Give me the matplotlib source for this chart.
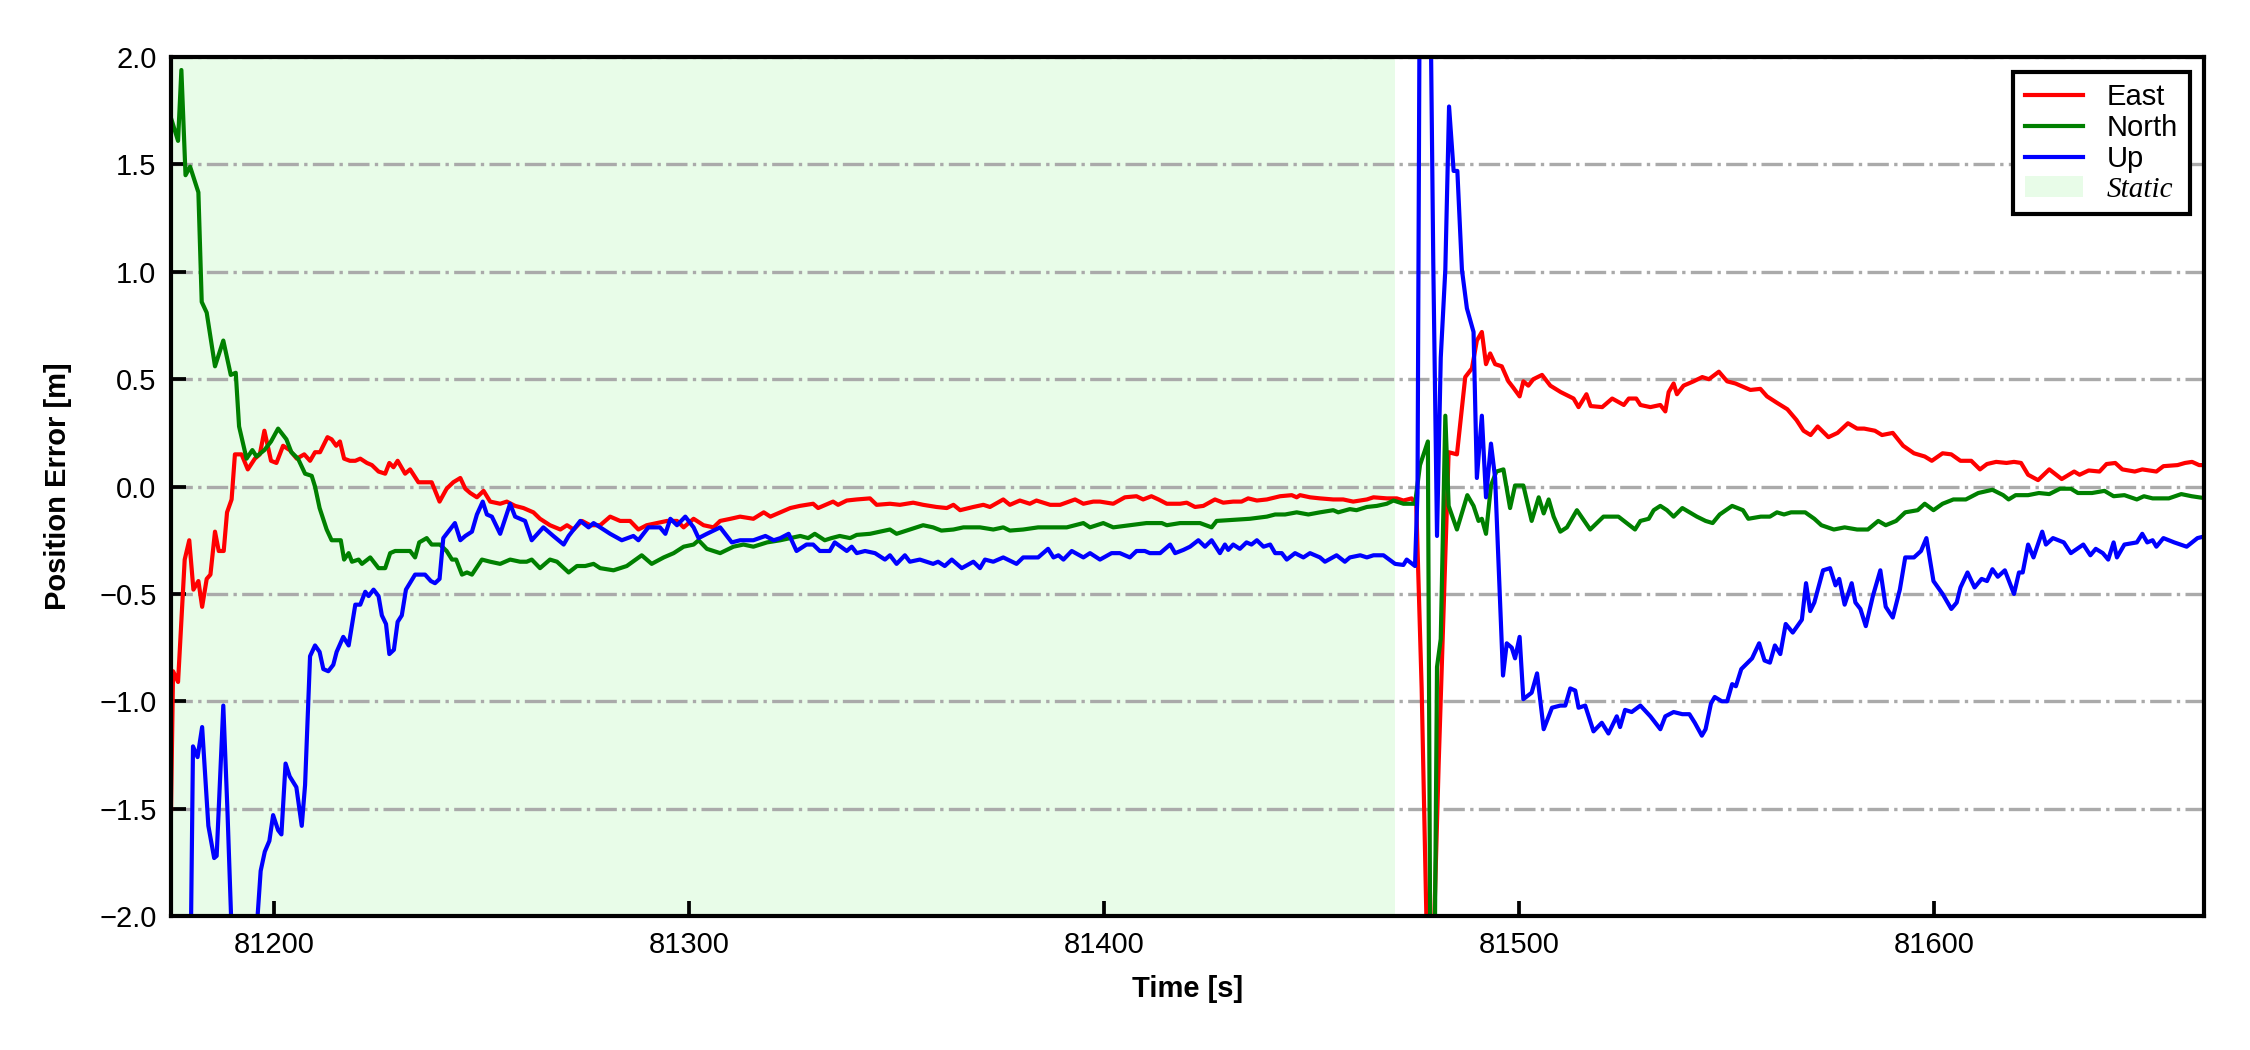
import matplotlib
matplotlib.use("Agg")
import matplotlib.pyplot as plt
from matplotlib.font_manager import FontProperties

plt.rcParams['font.family'] = ['Liberation Sans', 'DejaVu Sans']

# ---- data (time [s], error [m]) ----
east_t = [81175.2, 81175.7, 81176.9, 81178.5, 81179.6, 81180.6, 81181.8, 81182.7, 81183.8, 81184.7,
          81185.8, 81186.7, 81187.9, 81188.7, 81189.8, 81190.6, 81192.2, 81193.7, 81195.4, 81196.6,
          81197.7, 81199.3, 81200.6, 81202.2, 81203.8, 81205.5, 81207.3, 81208.7, 81209.9, 81211.1,
          81212.9, 81213.9, 81215.0, 81215.9, 81216.9, 81218.3, 81219.6, 81220.8, 81222.4, 81223.6,
          81225.2, 81226.8, 81227.8, 81228.8, 81229.8, 81231.6, 81232.8, 81234.8, 81236.4, 81238.0,
          81239.9, 81241.6, 81243.2, 81244.9, 81246.1, 81247.3, 81248.9, 81250.5, 81252.1, 81254.5,
          81256.1, 81258.1, 81260.1, 81262.5, 81264.1, 81266.5, 81269.0, 81270.6, 81272.2, 81274.2,
          81276.2, 81278.6, 81281.0, 81283.4, 81285.8, 81287.8, 81289.8, 81292.2, 81294.7, 81297.1,
          81298.7, 81301.1, 81303.5, 81305.9, 81307.5, 81310.0, 81312.3, 81315.5, 81318.0, 81319.6,
          81322.0, 81324.4, 81326.7, 81329.9, 81331.1, 81334.7, 81335.9, 81338.0, 81340.4, 81343.6,
          81345.2, 81348.4, 81350.8, 81354.0, 81356.4, 81359.6, 81362.1, 81363.7, 81365.3, 81368.5,
          81370.9, 81372.5, 81375.7, 81377.3, 81379.7, 81382.1, 81383.7, 81387.0, 81389.4, 81393.0,
          81395.0, 81397.4, 81399.0, 81402.2, 81405.0, 81407.8, 81409.4, 81411.4, 81413.1, 81415.1,
          81418.3, 81419.9, 81421.9, 81423.9, 81426.7, 81428.7, 81431.1, 81433.1, 81434.7, 81436.8,
          81439.2, 81442.4, 81445.2, 81446.4, 81447.2, 81449.6, 81452.0, 81455.2, 81457.6, 81460.0,
          81463.3, 81464.9, 81468.1, 81470.5, 81472.1, 81474.1, 81475.2, 81476.5, 81477.9, 81479.2,
          81480.6, 81483.0, 81485.0, 81487.0, 81488.6, 81489.8, 81491.0, 81492.0, 81493.0, 81494.2,
          81495.8, 81497.4, 81498.6, 81500.1, 81501.0, 81502.2, 81503.4, 81505.5, 81507.5, 81510.0,
          81513.1, 81514.3, 81516.2, 81517.2, 81520.0, 81522.4, 81525.2, 81526.4, 81528.2, 81529.2,
          81531.6, 81534.0, 81535.2, 81536.0, 81537.2, 81538.0, 81539.6, 81542.0, 81544.1, 81545.7,
          81548.1, 81550.1, 81552.1, 81553.3, 81555.7, 81558.1, 81559.7, 81562.1, 81564.6, 81566.8,
          81568.5, 81570.2, 81571.9, 81574.5, 81576.7, 81579.2, 81581.4, 81583.1, 81585.7, 81587.4,
          81590.0, 81592.5, 81595.1, 81597.7, 81599.4, 81602.0, 81604.1, 81606.3, 81608.9, 81611.0,
          81612.7, 81614.9, 81617.4, 81619.2, 81620.9, 81622.6, 81625.0, 81627.7, 81630.7, 81633.7,
          81635.0, 81637.2, 81639.8, 81641.5, 81643.6, 81645.3, 81648.3, 81650.1, 81653.5, 81655.2,
          81658.6, 81660.4, 81662.1, 81663.8, 81665.5]
east_v = [-1.51, -0.86, -0.91, -0.34, -0.25, -0.48, -0.44, -0.56, -0.43, -0.41,
          -0.21, -0.30, -0.30, -0.12, -0.06, 0.15, 0.15, 0.08, 0.13, 0.15,
          0.26, 0.12, 0.11, 0.19, 0.17, 0.13, 0.15, 0.12, 0.16, 0.16,
          0.23, 0.22, 0.19, 0.21, 0.13, 0.12, 0.12, 0.13, 0.11, 0.10,
          0.07, 0.06, 0.11, 0.09, 0.12, 0.06, 0.08, 0.02, 0.02, 0.02,
          -0.07, -0.01, 0.02, 0.04, -0.01, -0.03, -0.05, -0.02, -0.07, -0.08,
          -0.07, -0.09, -0.10, -0.12, -0.15, -0.18, -0.20, -0.18, -0.20, -0.16,
          -0.18, -0.18, -0.14, -0.16, -0.16, -0.20, -0.18, -0.17, -0.16, -0.16,
          -0.19, -0.15, -0.18, -0.19, -0.16, -0.15, -0.14, -0.15, -0.12, -0.14,
          -0.12, -0.10, -0.09, -0.08, -0.10, -0.07, -0.085, -0.065, -0.06, -0.055,
          -0.085, -0.08, -0.085, -0.075, -0.085, -0.095, -0.10, -0.085, -0.11, -0.095,
          -0.085, -0.095, -0.06, -0.085, -0.065, -0.08, -0.065, -0.085, -0.085, -0.06,
          -0.08, -0.07, -0.07, -0.08, -0.05, -0.045, -0.06, -0.045, -0.06, -0.08,
          -0.08, -0.075, -0.095, -0.09, -0.06, -0.075, -0.07, -0.07, -0.055, -0.065,
          -0.06, -0.045, -0.04, -0.05, -0.04, -0.05, -0.055, -0.06, -0.06, -0.07,
          -0.06, -0.05, -0.055, -0.055, -0.065, -0.055, -0.085, -0.94, -2.25, -2.25,
          -1.29, 0.16, 0.15, 0.51, 0.55, 0.68, 0.72, 0.57, 0.62, 0.57,
          0.56, 0.49, 0.46, 0.42, 0.49, 0.47, 0.50, 0.52, 0.47, 0.44,
          0.41, 0.37, 0.43, 0.375, 0.37, 0.41, 0.38, 0.41, 0.41, 0.38,
          0.37, 0.38, 0.35, 0.44, 0.48, 0.43, 0.47, 0.49, 0.51, 0.50,
          0.535, 0.49, 0.48, 0.47, 0.45, 0.455, 0.42, 0.39, 0.36, 0.31,
          0.26, 0.24, 0.28, 0.23, 0.25, 0.295, 0.27, 0.27, 0.26, 0.24,
          0.25, 0.19, 0.155, 0.14, 0.12, 0.155, 0.15, 0.12, 0.12, 0.08,
          0.105, 0.115, 0.11, 0.115, 0.11, 0.055, 0.03, 0.08, 0.035, 0.07,
          0.055, 0.075, 0.07, 0.105, 0.11, 0.08, 0.07, 0.08, 0.07, 0.095,
          0.10, 0.11, 0.115, 0.10, 0.10]

north_t = [81175.3, 81176.9, 81177.7, 81178.7, 81179.8, 81180.8, 81181.8, 81182.6, 81183.8, 81185.8,
           81187.8, 81189.6, 81190.8, 81191.6, 81193.4, 81194.8, 81195.8, 81197.7, 81199.3, 81201.0,
           81203.0, 81204.2, 81205.8, 81207.5, 81209.1, 81209.9, 81211.0, 81212.7, 81213.9, 81215.1,
           81216.1, 81216.9, 81218.0, 81218.8, 81220.4, 81221.2, 81223.2, 81225.2, 81226.8, 81228.0,
           81229.2, 81232.8, 81234.0, 81235.0, 81236.8, 81238.0, 81240.0, 81241.6, 81242.9, 81243.9,
           81245.3, 81246.5, 81247.7, 81250.1, 81252.1, 81254.5, 81256.9, 81259.3, 81260.9, 81262.1,
           81264.1, 81266.5, 81268.2, 81271.0, 81273.0, 81275.0, 81277.0, 81278.6, 81281.8, 81285.0,
           81288.6, 81291.0, 81293.9, 81296.3, 81298.7, 81301.1, 81302.3, 81304.3, 81307.5, 81310.7,
           81313.1, 81315.5, 81318.8, 81322.0, 81326.8, 81328.7, 81330.3, 81332.7, 81334.3, 81336.3,
           81338.8, 81340.4, 81343.6, 81346.0, 81348.4, 81350.0, 81353.2, 81356.4, 81358.8, 81360.8,
           81363.7, 81366.1, 81370.1, 81373.3, 81375.7, 81377.3, 81380.5, 81384.1, 81388.6, 81391.0,
           81395.0, 81396.6, 81399.8, 81402.2, 81406.2, 81410.2, 81413.9, 81415.1, 81418.3, 81423.1,
           81425.9, 81427.1, 81431.1, 81435.1, 81439.2, 81441.2, 81443.6, 81446.4, 81449.2, 81452.0,
           81455.2, 81456.4, 81459.2, 81460.8, 81463.3, 81465.7, 81468.1, 81469.7, 81472.1, 81474.9,
           81476.1, 81478.0, 81478.6, 81479.6, 81480.2, 81481.1, 81482.2, 81483.0, 81485.0, 81487.5,
           81489.0, 81490.2, 81491.0, 81492.0, 81493.2, 81494.5, 81496.2, 81497.8, 81499.0, 81501.0,
           81503.0, 81504.7, 81505.9, 81507.1, 81508.3, 81509.9, 81511.5, 81513.9, 81517.1, 81520.3,
           81521.9, 81523.9, 81527.9, 81529.2, 81531.2, 81532.4, 81534.0, 81535.6, 81537.2, 81539.3,
           81542.8, 81544.9, 81546.6, 81548.3, 81551.3, 81553.9, 81555.2, 81558.2, 81560.4, 81562.1,
           81563.8, 81565.5, 81568.9, 81571.1, 81572.8, 81575.8, 81578.4, 81581.4, 81584.0, 81586.5,
           81588.3, 81590.8, 81593.0, 81596.0, 81597.7, 81599.8, 81602.0, 81604.6, 81607.6, 81610.6,
           81614.0, 81616.6, 81617.9, 81619.6, 81622.6, 81625.2, 81627.7, 81630.3, 81632.9, 81634.6,
           81638.0, 81641.0, 81643.2, 81645.8, 81648.8, 81650.5, 81652.6, 81656.5, 81659.5, 81662.0,
           81665.5]
north_v = [1.71, 1.61, 1.94, 1.45, 1.49, 1.43, 1.37, 0.86, 0.81, 0.56,
           0.68, 0.52, 0.53, 0.28, 0.13, 0.17, 0.14, 0.17, 0.21, 0.27,
           0.22, 0.16, 0.13, 0.06, 0.05, 0.0, -0.10, -0.20, -0.25, -0.25,
           -0.25, -0.34, -0.31, -0.35, -0.34, -0.36, -0.33, -0.38, -0.38, -0.31,
           -0.30, -0.30, -0.33, -0.26, -0.24, -0.27, -0.27, -0.30, -0.34, -0.34,
           -0.41, -0.40, -0.41, -0.34, -0.35, -0.36, -0.34, -0.35, -0.35, -0.34,
           -0.38, -0.34, -0.35, -0.40, -0.37, -0.37, -0.36, -0.38, -0.39, -0.37,
           -0.32, -0.36, -0.33, -0.31, -0.28, -0.27, -0.25, -0.29, -0.31, -0.28,
           -0.27, -0.28, -0.26, -0.25, -0.23, -0.24, -0.22, -0.25, -0.24, -0.23,
           -0.24, -0.225, -0.22, -0.21, -0.20, -0.22, -0.20, -0.18, -0.19, -0.205,
           -0.20, -0.19, -0.19, -0.20, -0.19, -0.205, -0.20, -0.19, -0.19, -0.19,
           -0.17, -0.19, -0.17, -0.19, -0.18, -0.17, -0.17, -0.18, -0.17, -0.17,
           -0.19, -0.16, -0.155, -0.15, -0.14, -0.13, -0.13, -0.12, -0.13, -0.12,
           -0.11, -0.12, -0.105, -0.11, -0.095, -0.09, -0.08, -0.065, -0.08, -0.08,
           0.10, 0.21, -2.3, -2.3, -0.84, -0.71, 0.33, -0.09, -0.20, -0.04,
           -0.09, -0.16, -0.15, -0.22, 0.005, 0.07, 0.08, -0.10, 0.005, 0.005,
           -0.16, -0.05, -0.125, -0.06, -0.14, -0.21, -0.19, -0.11, -0.20, -0.14,
           -0.14, -0.14, -0.20, -0.16, -0.15, -0.11, -0.09, -0.11, -0.14, -0.10,
           -0.14, -0.16, -0.17, -0.13, -0.09, -0.11, -0.15, -0.14, -0.14, -0.12,
           -0.13, -0.12, -0.12, -0.15, -0.18, -0.20, -0.19, -0.20, -0.20, -0.16,
           -0.18, -0.16, -0.12, -0.11, -0.08, -0.11, -0.08, -0.06, -0.06, -0.03,
           -0.015, -0.04, -0.06, -0.04, -0.04, -0.03, -0.035, -0.01, -0.01, -0.03,
           -0.03, -0.02, -0.045, -0.04, -0.06, -0.045, -0.055, -0.055, -0.035, -0.045,
           -0.055]

up_t = [81175.2, 81179.7, 81180.5, 81181.6, 81182.7, 81184.2, 81185.6, 81186.2, 81187.8, 81188.8,
        81190.2, 81195.0, 81196.8, 81197.8, 81198.9, 81199.8, 81201.0, 81201.8, 81202.8, 81203.8,
        81205.4, 81206.7, 81207.5, 81208.7, 81209.9, 81211.0, 81211.9, 81213.1, 81214.3, 81215.1,
        81216.7, 81218.0, 81219.6, 81220.8, 81222.0, 81222.8, 81224.0, 81225.2, 81226.0, 81227.0,
        81227.8, 81228.9, 81229.8, 81230.8, 81231.8, 81234.0, 81236.4, 81237.8, 81238.8, 81239.9,
        81240.8, 81242.0, 81243.6, 81244.9, 81246.1, 81247.7, 81248.9, 81250.3, 81251.3, 81252.5,
        81254.5, 81256.9, 81258.1, 81260.5, 81262.1, 81264.9, 81267.3, 81269.8, 81271.0, 81273.8,
        81275.8, 81277.0, 81278.6, 81281.0, 81283.8, 81286.6, 81287.8, 81290.2, 81293.0, 81294.3,
        81295.5, 81297.1, 81299.1, 81301.1, 81302.3, 81304.3, 81307.5, 81310.3, 81312.3, 81315.5,
        81318.4, 81320.4, 81322.0, 81324.0, 81325.9, 81328.3, 81329.9, 81331.5, 81333.9, 81335.1,
        81338.0, 81339.2, 81340.4, 81342.4, 81344.8, 81347.2, 81348.4, 81350.0, 81352.0, 81353.2,
        81355.6, 81358.8, 81360.0, 81361.6, 81363.3, 81365.7, 81368.5, 81370.1, 81371.3, 81373.3,
        81375.7, 81378.9, 81380.5, 81384.1, 81386.5, 81387.8, 81389.0, 81390.2, 81392.2, 81395.0,
        81396.6, 81399.0, 81401.8, 81403.8, 81406.2, 81407.8, 81409.8, 81411.0, 81413.5, 81415.9,
        81417.1, 81419.1, 81420.7, 81422.7, 81424.3, 81425.9, 81427.9, 81429.1, 81429.9, 81431.1,
        81432.7, 81434.3, 81435.5, 81436.8, 81438.4, 81440.0, 81441.2, 81442.8, 81444.0, 81446.0,
        81448.0, 81449.6, 81452.0, 81453.2, 81456.0, 81458.0, 81459.2, 81461.7, 81463.3, 81464.9,
        81467.3, 81470.1, 81472.1, 81472.9, 81474.9, 81475.5, 81476.1, 81478.4, 81479.3, 81480.2,
        81481.1, 81482.2, 81483.1, 81484.2, 81485.1, 81486.2, 81487.4, 81489.0, 81489.8, 81491.0,
        81492.0, 81493.2, 81494.2, 81496.1, 81497.0, 81498.2, 81499.0, 81500.1, 81501.0, 81503.0,
        81504.3, 81505.9, 81507.9, 81509.9, 81511.1, 81512.3, 81513.5, 81514.3, 81515.9, 81517.9,
        81519.9, 81521.5, 81523.5, 81524.3, 81525.5, 81527.1, 81529.2, 81531.6, 81534.0, 81535.2,
        81537.2, 81539.3, 81541.0, 81542.3, 81544.0, 81544.9, 81546.2, 81547.1, 81548.8, 81550.1,
        81551.3, 81552.2, 81553.5, 81556.1, 81557.8, 81559.1, 81560.4, 81561.6, 81562.9, 81564.2,
        81565.9, 81568.1, 81569.1, 81570.1, 81571.1, 81573.2, 81574.9, 81576.2, 81577.1, 81578.4,
        81580.1, 81581.0, 81582.2, 81583.5, 81585.2, 81587.0, 81588.3, 81590.0, 81591.7, 81593.0,
        81595.1, 81596.8, 81598.1, 81599.8, 81602.0, 81604.1, 81605.4, 81606.3, 81608.0, 81609.7,
        81611.4, 81612.7, 81614.0, 81615.3, 81617.0, 81619.2, 81620.4, 81621.3, 81622.6, 81623.9,
        81626.0, 81626.9, 81628.6, 81631.2, 81632.9, 81635.9, 81637.6, 81638.9, 81640.6, 81641.9,
        81643.2, 81644.0, 81645.8, 81648.8, 81650.1, 81651.3, 81652.6, 81653.5, 81655.2, 81657.8,
        81660.8, 81662.1, 81663.4, 81665.5]
up_v = [-2.6, -2.6, -1.21, -1.26, -1.12, -1.58, -1.73, -1.72, -1.02, -1.51,
        -2.3, -2.3, -1.79, -1.70, -1.65, -1.53, -1.60, -1.62, -1.29, -1.35,
        -1.40, -1.58, -1.39, -0.79, -0.74, -0.77, -0.85, -0.86, -0.83, -0.77,
        -0.70, -0.74, -0.55, -0.55, -0.49, -0.51, -0.48, -0.51, -0.60, -0.64,
        -0.78, -0.76, -0.63, -0.60, -0.48, -0.41, -0.41, -0.44, -0.45, -0.43,
        -0.24, -0.21, -0.17, -0.25, -0.23, -0.21, -0.13, -0.07, -0.13, -0.14,
        -0.22, -0.08, -0.14, -0.16, -0.25, -0.19, -0.23, -0.27, -0.23, -0.16,
        -0.19, -0.17, -0.19, -0.22, -0.25, -0.23, -0.25, -0.19, -0.19, -0.22,
        -0.15, -0.18, -0.14, -0.19, -0.24, -0.22, -0.19, -0.26, -0.25, -0.25,
        -0.23, -0.25, -0.24, -0.22, -0.30, -0.27, -0.27, -0.30, -0.30, -0.26,
        -0.30, -0.28, -0.31, -0.30, -0.31, -0.34, -0.32, -0.36, -0.32, -0.35,
        -0.34, -0.36, -0.35, -0.37, -0.34, -0.38, -0.35, -0.38, -0.34, -0.35,
        -0.33, -0.36, -0.33, -0.33, -0.29, -0.33, -0.32, -0.34, -0.30, -0.33,
        -0.31, -0.34, -0.31, -0.31, -0.33, -0.30, -0.30, -0.31, -0.31, -0.27,
        -0.31, -0.295, -0.28, -0.25, -0.28, -0.25, -0.31, -0.27, -0.295, -0.27,
        -0.29, -0.26, -0.27, -0.25, -0.28, -0.27, -0.31, -0.31, -0.34, -0.31,
        -0.33, -0.31, -0.33, -0.35, -0.32, -0.35, -0.33, -0.32, -0.33, -0.32,
        -0.32, -0.36, -0.365, -0.34, -0.37, -0.03, 2.7, 2.7, 1.04, -0.23,
        0.60, 1.01, 1.77, 1.47, 1.47, 1.01, 0.83, 0.72, 0.04, 0.33,
        -0.05, 0.20, 0.04, -0.88, -0.73, -0.75, -0.80, -0.70, -0.99, -0.96,
        -0.87, -1.13, -1.03, -1.02, -1.02, -0.94, -0.95, -1.03, -1.02, -1.14,
        -1.10, -1.15, -1.07, -1.12, -1.04, -1.05, -1.02, -1.07, -1.13, -1.07,
        -1.05, -1.06, -1.06, -1.10, -1.16, -1.13, -1.01, -0.98, -1.00, -1.00,
        -0.92, -0.93, -0.85, -0.80, -0.73, -0.81, -0.82, -0.74, -0.78, -0.64,
        -0.68, -0.62, -0.45, -0.58, -0.54, -0.39, -0.38, -0.46, -0.43, -0.55,
        -0.45, -0.54, -0.57, -0.65, -0.51, -0.39, -0.56, -0.61, -0.48, -0.33,
        -0.33, -0.30, -0.24, -0.44, -0.50, -0.57, -0.54, -0.47, -0.40, -0.47,
        -0.43, -0.44, -0.385, -0.42, -0.39, -0.50, -0.40, -0.40, -0.27, -0.33,
        -0.21, -0.27, -0.24, -0.26, -0.31, -0.27, -0.32, -0.29, -0.31, -0.34,
        -0.26, -0.33, -0.27, -0.26, -0.22, -0.26, -0.25, -0.28, -0.24, -0.26,
        -0.28, -0.26, -0.24, -0.23]

static_start = 81170
static_end = 81470
x_ticks = [81200, 81300, 81400, 81500, 81600]
y_ticks = [-2.0, -1.5, -1.0, -0.5, 0.0, 0.5, 1.0, 1.5, 2.0]

fig = plt.figure(figsize=(7.5, 3.5), dpi=300)
ax = fig.add_axes([0.076, 0.1276, 0.9036, 0.818])

ax.axvspan(static_start, static_end, color='#e8fce8', lw=0, label='Static', zorder=0)
ax.plot(east_t, east_v, color='red', lw=1.0, label='East')
ax.plot(north_t, north_v, color='green', lw=1.0, label='North')
ax.plot(up_t, up_v, color='blue', lw=1.0, label='Up')

ax.set_xlim(81175.2, 81665)
ax.set_ylim(-2, 2)
ax.set_xticks(x_ticks)
ax.set_yticks(y_ticks)
ax.grid(axis='y', linestyle='-.', color='#aaaaaa', lw=0.8)
ax.set_axisbelow(True)
ax.tick_params(direction='in', length=3.5, width=0.9, labelsize=7, top=False, right=False)
for sp in ax.spines.values():
    sp.set_linewidth(1.0)

ax.set_xlabel('Time [s]', fontsize=7, fontweight='bold')
ax.set_ylabel('Position Error [m]', fontsize=7, fontweight='bold', labelpad=6.5)

# legend order: East, North, Up, Static
h, l = ax.get_legend_handles_labels()
order = [1, 2, 3, 0]
leg = ax.legend([h[i] for i in order], [l[i] for i in order], loc='upper right',
                fontsize=7, fancybox=False, edgecolor='black', framealpha=1,
                labelspacing=0.1, handlelength=2.0, borderaxespad=0.5)
leg.get_frame().set_linewidth(1.0)
leg.get_texts()[3].set_fontproperties(FontProperties(family='Liberation Serif', style='italic', size=7))

fig.savefig('out.png', dpi=300)
